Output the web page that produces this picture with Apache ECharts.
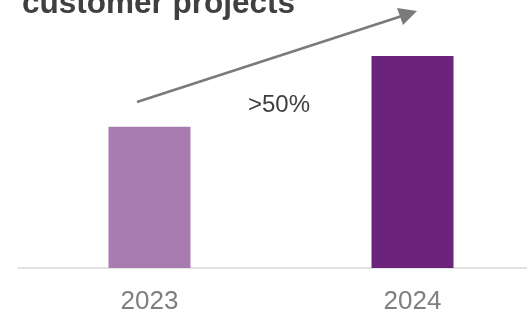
<!DOCTYPE html>
<html>
<head>
<meta charset="utf-8">
<script src="https://cdn.jsdelivr.net/npm/echarts@6/dist/echarts.min.js"></script>
<style>html,body{margin:0;padding:0;background:#fff}#c{width:527px;height:312px}</style>
</head>
<body>
<div id="c"></div>
<script>
const categories = ['2023', '2024'];
const values = [100, 150];
const barColors = ['#A87CB0', '#6B237C'];
const titleText = 'customer projects';
const growthText = '>50%';

const chart = echarts.init(document.getElementById('c'), null, {renderer: 'canvas'});
chart.setOption({
  animation: false,
  grid: {left: 18, right: -17, top: 56, bottom: 44, containLabel: false, outerBoundsMode: 'none'},
  xAxis: {
    type: 'category',
    data: categories,
    axisLine: {show: true, lineStyle: {color: '#D9D9D9', width: 1.5}},
    axisTick: {show: false},
    axisLabel: {color: '#7F7F7F', fontSize: 26, fontFamily: 'Liberation Sans, Arial, sans-serif', margin: 21}
  },
  yAxis: {type: 'value', min: 0, max: 150, show: false, splitLine: {show: false}},
  series: [{
    type: 'bar',
    barWidth: 82,
    data: values.map((v, i) => ({value: v, itemStyle: {color: barColors[i]}}))
  }],
  graphic: [
    {type: 'text', left: 22, top: -12, style: {text: titleText, fill: '#404040', font: 'bold 31.5px "Liberation Sans", Arial, sans-serif'}},
    {type: 'text', left: 248, top: 93, style: {text: growthText, fill: '#404040', font: '24px "Liberation Sans", Arial, sans-serif'}},
    {type: 'line', shape: {x1: 137, y1: 102, x2: 402, y2: 16}, style: {stroke: '#7A7A7A', lineWidth: 2.5}},
    {type: 'polygon', shape: {points: [[417, 11], [397, 8], [403, 25]]}, style: {fill: '#7A7A7A'}}
  ]
});
</script>
</body>
</html>
